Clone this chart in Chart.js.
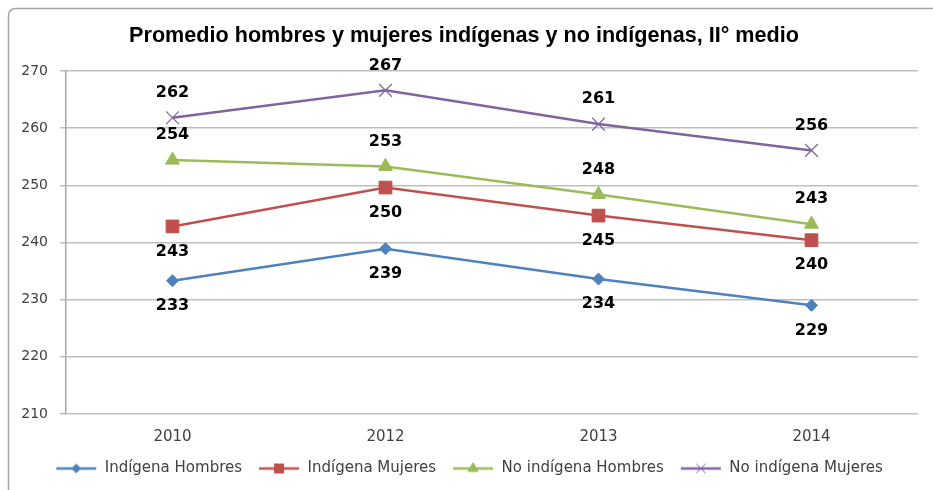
<!DOCTYPE html>
<html>
<head>
<meta charset="utf-8">
<script src="https://cdn.jsdelivr.net/npm/chart.js@4/dist/chart.umd.min.js"></script>
<style>
  html, body { margin: 0; padding: 0; background: #fff; }
  #wrap { width: 933px; height: 490px; position: relative; }
</style>
</head>
<body>
<div id="wrap"><canvas id="chart" width="933" height="490"></canvas></div>
<script>
  // data
  const years = ["2010", "2012", "2013", "2014"];
  const indigenaHombres = [233.3, 238.9, 233.6, 229.0];
  const indigenaMujeres = [242.8, 249.6, 244.7, 240.4];
  const noIndigenaHombres = [254.4, 253.3, 248.4, 243.2];
  const noIndigenaMujeres = [261.8, 266.6, 260.7, 256.1];
  const seriesNames = ["Indígena Hombres", "Indígena Mujeres", "No indígena Hombres", "No indígena Mujeres"];
  const yTicks = [210, 220, 230, 240, 250, 260, 270];

  const colors = ["#4F81BD", "#C0504D", "#9BBB59", "#8064A2"];
  const markers = ["rectRot", "rect", "triangle", "crossRot"];
  const radii = [6, 9, 8, 9];
  const labelSide = [1, 1, -1, -1]; // 1 = below the point, -1 = above

  // small canvas with line + marker for the legend (10px blank on the left as item gap)
  function legendIcon(i) {
    const c = document.createElement("canvas");
    c.width = 52; c.height = 16;
    const ctx = c.getContext("2d");
    ctx.strokeStyle = colors[i];
    ctx.lineWidth = 2.5;
    ctx.beginPath();
    ctx.moveTo(11, 8); ctx.lineTo(51, 8);
    ctx.stroke();
    ctx.fillStyle = colors[i];
    ctx.lineWidth = 1;
    Chart.helpers.drawPoint(ctx, { pointStyle: markers[i], radius: radii[i] * 0.7, borderWidth: 1 }, 31, 8);
    ctx.fill();
    ctx.stroke();
    return c;
  }

  const frame = {
    id: "frame",
    beforeDraw(chart) {
      const ctx = chart.ctx;
      ctx.save();
      ctx.fillStyle = "#fff";
      ctx.fillRect(0, 0, chart.width, chart.height);
      ctx.strokeStyle = "#a6a6a6";
      ctx.lineWidth = 1.5;
      ctx.beginPath();
      ctx.moveTo(8.5, 520);
      ctx.lineTo(8.5, 16);
      ctx.quadraticCurveTo(8.5, 8.5, 16, 8.5);
      ctx.lineTo(960, 8.5);
      ctx.stroke();
      ctx.restore();
    }
  };

  const valueLabels = {
    id: "valueLabels",
    afterDatasetsDraw(chart) {
      const ctx = chart.ctx;
      ctx.save();
      ctx.font = "bold 16px 'DejaVu Sans'";
      ctx.fillStyle = "#000";
      ctx.textAlign = "center";
      ctx.textBaseline = "middle";
      chart.data.datasets.forEach((ds, i) => {
        chart.getDatasetMeta(i).data.forEach((pt, j) => {
          ctx.fillText(Math.round(ds.data[j]).toString(), pt.x, pt.y + labelSide[i] * 25);
        });
      });
      ctx.restore();
    }
  };

  const allSeries = [indigenaHombres, indigenaMujeres, noIndigenaHombres, noIndigenaMujeres];

  new Chart(document.getElementById("chart"), {
    type: "line",
    data: {
      labels: years,
      datasets: allSeries.map((vals, i) => ({
        label: seriesNames[i],
        data: vals,
        borderColor: colors[i],
        backgroundColor: colors[i],
        borderWidth: 2.5,
        pointStyle: markers[i],
        pointRadius: radii[i],
        pointBorderWidth: i === 3 ? 1.2 : 1,
        pointBorderColor: colors[i],
        tension: 0
      }))
    },
    options: {
      responsive: false,
      animation: false,
      layout: { padding: { left: 10, right: 15, top: 0, bottom: 4 } },
      plugins: {
        title: {
          display: true,
          text: "Promedio hombres y mujeres indígenas y no indígenas, II° medio",
          color: "#000",
          font: { family: "'Liberation Sans'", size: 21.6, weight: "bold" },
          padding: { top: 23, bottom: 22 }
        },
        legend: {
          position: "bottom",
          labels: {
            usePointStyle: true,
            pointStyleWidth: 52,
            padding: 6,
            color: "#404040",
            font: { family: "'DejaVu Sans'", size: 15 },
            generateLabels(chart) {
              return chart.data.datasets.map((ds, i) => ({
                text: ds.label,
                pointStyle: legendIcon(i),
                fillStyle: colors[i],
                strokeStyle: colors[i],
                lineWidth: 0,
                fontColor: "#404040",
                datasetIndex: i
              }));
            }
          }
        },
        tooltip: { enabled: false }
      },
      scales: {
        x: {
          offset: true,
          grid: { display: false, drawTicks: false },
          border: { display: false },
          afterFit(scale) { scale.height = scale.height - 5; },
          ticks: { color: "#404040", font: { family: "'DejaVu Sans'", size: 15 }, padding: 14 }
        },
        y: {
          min: yTicks[0],
          max: yTicks[yTicks.length - 1],
          afterBuildTicks(scale) { scale.ticks = yTicks.map(v => ({ value: v })); },
          afterFit(scale) { scale.width = 56; },
          grid: { color: "#bfbfbf", lineWidth: 1.5, tickLength: 6 },
          border: { color: "#a6a6a6", width: 1.5 },
          ticks: { color: "#404040", font: { family: "'DejaVu Sans'", size: 14 }, padding: 12 }
        }
      }
    },
    plugins: [frame, valueLabels]
  });
</script>
</body>
</html>
